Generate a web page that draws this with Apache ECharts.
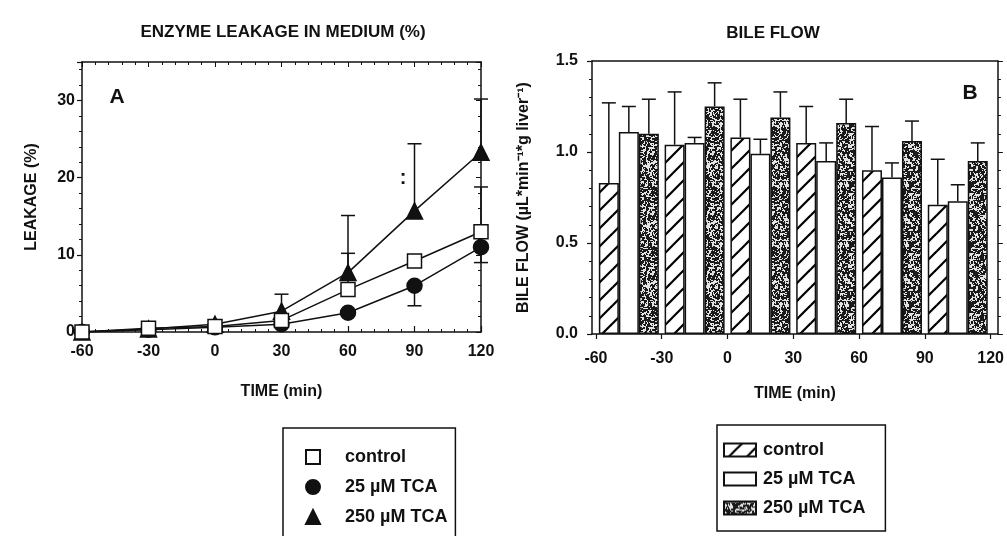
<!DOCTYPE html>
<html>
<head>
<meta charset="utf-8">
<script src="https://cdn.jsdelivr.net/npm/echarts@6/dist/echarts.min.js"></script>
<style>
  html, body { margin: 0; background: #fff; }
  #chart { width: 1007px; height: 536px; }
</style>
</head>
<body>
<div id="chart"></div>
<script>
// panel A: enzyme leakage (%)
const times = [-60, -30, 0, 30, 60, 90, 120];
const leakControl = [0, 0.5, 0.7, 1.5, 5.5, 9.2, 13.0];
const leakControlSd = [0, 0, 0, 0, 4.7, 0, 5.8];
const leak25 = [0, 0.3, 0.6, 1.0, 2.5, 6.0, 11.0];
const leak25Sd = [0, 0, 0, 0, 0, 2.6, 2.0];      // drawn downward
const leak250 = [0, 0.4, 1.0, 2.7, 7.7, 15.7, 23.3];
const leak250Sd = [0, 0, 0, 2.2, 7.4, 8.7, 6.9];

// panel B: bile flow
const bileTimes = [-45, -15, 15, 45, 75, 105];
const bileControl = [0.83, 1.04, 1.08, 1.05, 0.90, 0.71];
const bileControlSd = [0.44, 0.29, 0.21, 0.20, 0.24, 0.25];
const bile25 = [1.11, 1.05, 0.99, 0.95, 0.86, 0.73];
const bile25Sd = [0.14, 0.03, 0.08, 0.10, 0.08, 0.09];
const bile250 = [1.10, 1.25, 1.19, 1.16, 1.06, 0.95];
const bile250Sd = [0.19, 0.13, 0.14, 0.13, 0.11, 0.10];

const groupNames = ['control', '25 µM TCA', '250 µM TCA'];
const timeTicks = [-60, -30, 0, 30, 60, 90, 120];

const FONT = '"Liberation Sans", Arial, sans-serif';
const ink = '#111';

function hatchPattern() {
  const n = 18;
  const c = document.createElement('canvas');
  c.width = n; c.height = n;
  const g = c.getContext('2d');
  g.fillStyle = '#fff';
  g.fillRect(0, 0, n, n);
  g.strokeStyle = '#000';
  g.lineWidth = 2.2;
  [0, n, 2 * n].forEach(k => {
    g.beginPath();
    g.moveTo(k - n - 1, n + 1);
    g.lineTo(k + 1, -1);
    g.stroke();
  });
  return c;
}

// fixed-seed speckle texture for the 250 µM bars
function specklePattern() {
  const n = 60;
  const c = document.createElement('canvas');
  c.width = n; c.height = n;
  const g = c.getContext('2d');
  g.fillStyle = '#e4e4e4';
  g.fillRect(0, 0, n, n);
  let s = 20231;
  const rnd = () => { s = (s * 1103515245 + 12345) & 0x7fffffff; return s / 0x7fffffff; };
  g.fillStyle = '#1a1a1a';
  for (let i = 0; i < 1500; i++) {
    const x = Math.floor(rnd() * n), y = Math.floor(rnd() * n);
    const w = rnd() < 0.5 ? 1 : 2, h = rnd() < 0.5 ? 1 : 2;
    g.fillRect(x, y, w, h);
  }
  return c;
}

const fills = [
  { image: hatchPattern(), repeat: 'repeat' },
  '#fff',
  { image: specklePattern(), repeat: 'repeat' }
];

function capLines(a, b, half) {
  const st = { stroke: ink, lineWidth: 1.5 };
  return {
    type: 'group',
    children: [
      { type: 'line', shape: { x1: a[0], y1: a[1], x2: b[0], y2: b[1] }, style: st },
      { type: 'line', shape: { x1: b[0] - half, y1: b[1], x2: b[0] + half, y2: b[1] }, style: st }
    ]
  };
}

function leakErr(vals, sds, dir) {
  return {
    type: 'custom',
    xAxisIndex: 0, yAxisIndex: 0,
    silent: true, z: 1,
    data: times.map((t, i) => [t, vals[i], vals[i] + dir * sds[i]]).filter(d => d[1] !== d[2]),
    renderItem(params, api) {
      const a = api.coord([api.value(0), api.value(1)]);
      const b = api.coord([api.value(0), api.value(2)]);
      return capLines(a, b, 7);
    }
  };
}

function bileErr(vals, sds, shift) {
  return {
    type: 'custom',
    xAxisIndex: 2, yAxisIndex: 2,
    silent: true, z: 3,
    data: bileTimes.map((t, i) => [t, vals[i], vals[i] + sds[i]]),
    renderItem(params, api) {
      const a = api.coord([api.value(0), api.value(1)]);
      const b = api.coord([api.value(0), api.value(2)]);
      a[0] += shift; b[0] += shift;
      return capLines(a, b, 7);
    }
  };
}

const labelStyle = { fontFamily: FONT, fontWeight: 'bold', fontSize: 16, color: ink };
const legendText = { fontFamily: FONT, fontWeight: 'bold', fontSize: 18, color: ink, lineHeight: 16 };
const lineAx = { show: true, onZero: false, lineStyle: { color: ink, width: 1.5 } };

const chart = echarts.init(document.getElementById('chart'));

const leakSeries = [
  { name: groupNames[2], data: leak250, symbol: 'triangle', symbolSize: 16, color: ink, border: ink },
  { name: groupNames[1], data: leak25, symbol: 'circle', symbolSize: 15, color: ink, border: ink },
  { name: groupNames[0], data: leakControl, symbol: 'rect', symbolSize: 14, color: '#fff', border: ink }
].map((s, k) => ({
  type: 'line',
  name: s.name,
  xAxisIndex: 0, yAxisIndex: 0,
  data: times.map((t, i) => [t, s.data[i]]),
  symbol: s.symbol,
  symbolSize: s.symbolSize,
  z: 2 + k,
  lineStyle: { color: ink, width: 1.5 },
  itemStyle: { color: s.color, borderColor: s.border, borderWidth: 1.5, opacity: 1 },
  emphasis: { disabled: true }
}));

const bileVals = [bileControl, bile25, bile250];
const bileSds = [bileControlSd, bile25Sd, bile250Sd];
const barShift = [-20, 0, 20];

const bileSeries = bileVals.map((vals, k) => ({
  type: 'bar',
  name: 'B:' + groupNames[k],
  xAxisIndex: 2, yAxisIndex: 2,
  data: bileTimes.map((t, i) => [t, vals[i]]),
  barWidth: 20,
  barGap: '0%',
  itemStyle: { color: fills[k], borderColor: ink, borderWidth: 1.5 },
  emphasis: { disabled: true }
}));

chart.setOption({
  animation: false,
  grid: [
    { left: 82, top: 62, width: 399, height: 270 },
    { left: 592, top: 61, width: 407, height: 273 }
  ],
  xAxis: [
    {
      type: 'value', gridIndex: 0, min: -60, max: 120, interval: 30,
      axisLine: lineAx, splitLine: { show: false },
      axisTick: { inside: true, length: 6, lineStyle: { color: ink, width: 1.2 } },
      minorTick: { show: true, splitNumber: 5, length: 3, lineStyle: { color: ink } },
      axisLabel: Object.assign({ margin: 12 }, labelStyle),
      name: 'TIME (min)', nameLocation: 'middle', nameGap: 52,
      nameTextStyle: labelStyle
    },
    {
      type: 'value', gridIndex: 0, position: 'top', min: -60, max: 120, interval: 30,
      axisLine: lineAx, splitLine: { show: false },
      axisTick: { inside: true, length: 5, lineStyle: { color: ink } },
      minorTick: { show: true, splitNumber: 5, length: 3, lineStyle: { color: ink } },
      axisLabel: { show: false }
    },
    {
      type: 'value', gridIndex: 1, min: -61.8, max: 123.3,
      axisLine: lineAx, splitLine: { show: false },
      axisTick: { customValues: timeTicks, length: 5, lineStyle: { color: ink, width: 1.2 } },
      axisLabel: Object.assign({ customValues: timeTicks, margin: 17 }, labelStyle),
      name: 'TIME (min)', nameLocation: 'middle', nameGap: 52,
      nameTextStyle: labelStyle
    },
    {
      type: 'value', gridIndex: 1, position: 'top', min: -61.8, max: 123.3,
      axisLine: lineAx, splitLine: { show: false },
      axisTick: { show: false }, axisLabel: { show: false }
    }
  ],
  yAxis: [
    {
      type: 'value', gridIndex: 0, min: 0, max: 35, interval: 10,
      axisLine: lineAx, splitLine: { show: false },
      axisTick: { length: 5, lineStyle: { color: ink, width: 1.2 } },
      minorTick: { show: true, splitNumber: 5, length: 3, lineStyle: { color: ink } },
      axisLabel: Object.assign({ margin: 7, formatter: v => (v % 10 === 0 ? String(v) : '') }, labelStyle),
      name: 'LEAKAGE (%)', nameLocation: 'middle', nameGap: 42, nameRotate: 90,
      nameTextStyle: labelStyle
    },
    {
      type: 'value', gridIndex: 0, position: 'right', min: 0, max: 35, interval: 10,
      axisLine: lineAx, splitLine: { show: false },
      axisTick: { inside: true, length: 5, lineStyle: { color: ink } },
      minorTick: { show: true, splitNumber: 5, length: 3, lineStyle: { color: ink } },
      axisLabel: { show: false }
    },
    {
      type: 'value', gridIndex: 1, min: 0, max: 1.5, interval: 0.5,
      axisLine: lineAx, splitLine: { show: false },
      axisTick: { length: 5, lineStyle: { color: ink, width: 1.2 } },
      minorTick: { show: true, splitNumber: 5, length: 3, lineStyle: { color: ink } },
      axisLabel: Object.assign({ margin: 14, formatter: v => v.toFixed(1) }, labelStyle),
      name: 'BILE FLOW (µL*min⁻¹*g liver⁻¹)', nameLocation: 'middle', nameGap: 60, nameRotate: 90,
      nameTextStyle: labelStyle
    },
    {
      type: 'value', gridIndex: 1, position: 'right', min: 0, max: 1.5, interval: 0.5,
      axisLine: lineAx, splitLine: { show: false },
      axisTick: { length: 5, lineStyle: { color: ink } },
      minorTick: { show: true, splitNumber: 5, length: 3, lineStyle: { color: ink } },
      axisLabel: { show: false }
    }
  ],
  legend: [
    {
      left: 283, top: 428, height: 200, orient: 'vertical',
      data: [
        { name: groupNames[0], icon: 'rect' },
        { name: groupNames[1], icon: 'circle' },
        { name: groupNames[2], icon: 'triangle' }
      ],
      itemWidth: 14, itemHeight: 14, itemGap: 12,
      padding: [20, 8, 30, 22],
      borderColor: ink, borderWidth: 1.5, borderRadius: 0,
      selectedMode: false,
      textStyle: Object.assign({ padding: [0, 0, 0, 20] }, legendText)
    },
    {
      left: 717, top: 425, height: 200, orient: 'vertical',
      data: groupNames.map(n => ({ name: 'B:' + n, icon: 'rect' })),
      formatter: n => n.slice(2),
      itemWidth: 32, itemHeight: 13, itemGap: 11,
      padding: [16, 20, 14, 6],
      borderColor: ink, borderWidth: 1.5, borderRadius: 0,
      selectedMode: false,
      textStyle: Object.assign({ padding: [0, 0, 0, 2] }, legendText)
    }
  ],
  graphic: [
    { type: 'text', x: 283, y: 32, style: { text: 'ENZYME LEAKAGE IN MEDIUM (%)', font: 'bold 17px ' + FONT, fill: ink, align: 'center', verticalAlign: 'middle' } },
    { type: 'text', x: 773, y: 33, style: { text: 'BILE FLOW', font: 'bold 17px ' + FONT, fill: ink, align: 'center', verticalAlign: 'middle' } },
    { type: 'text', x: 117, y: 97, style: { text: 'A', font: 'bold 21px ' + FONT, fill: ink, align: 'center', verticalAlign: 'middle' } },
    { type: 'text', x: 970, y: 93, style: { text: 'B', font: 'bold 21px ' + FONT, fill: ink, align: 'center', verticalAlign: 'middle' } },
    { type: 'text', x: 403, y: 178, style: { text: ':', font: 'bold 20px ' + FONT, fill: ink, align: 'center', verticalAlign: 'middle' } }
  ],
  series: [
    leakErr(leakControl, leakControlSd, 1),
    leakErr(leak25, leak25Sd, -1),
    leakErr(leak250, leak250Sd, 1),
    ...leakSeries,
    ...bileSeries,
    ...bileVals.map((v, k) => bileErr(v, bileSds[k], barShift[k]))
  ]
});
</script>
</body>
</html>
